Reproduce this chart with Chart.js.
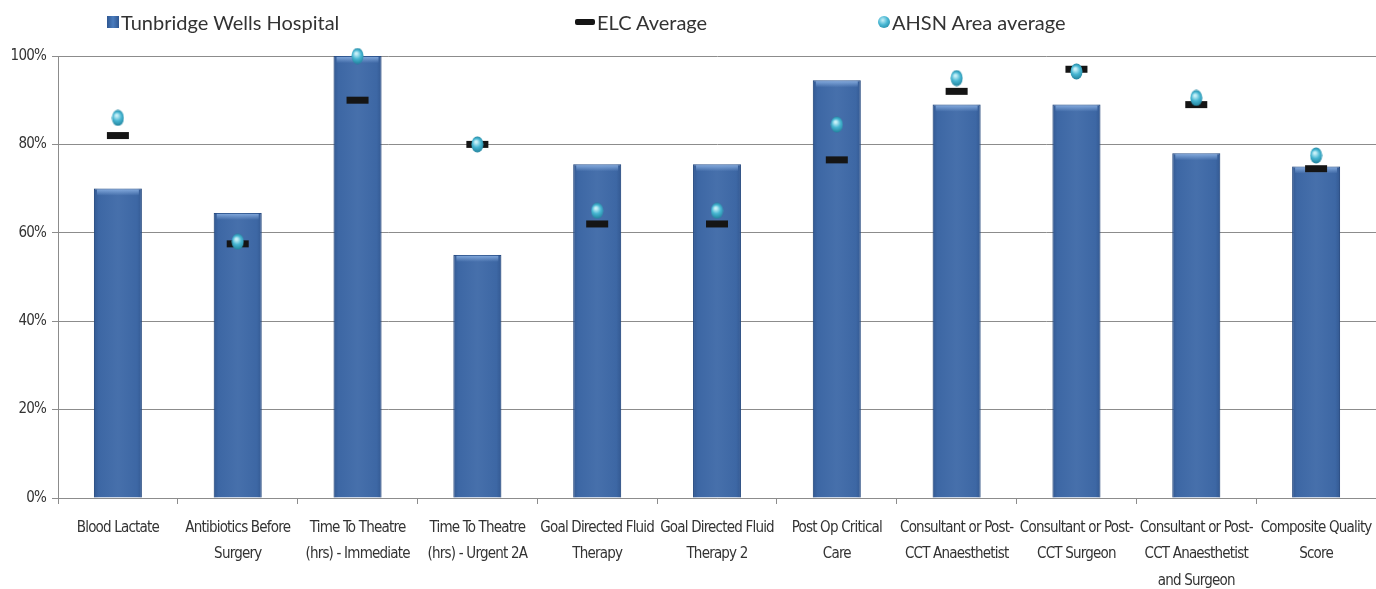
<!DOCTYPE html>
<html>
<head>
<meta charset="utf-8">
<script src="https://cdn.jsdelivr.net/npm/chart.js@4.4.1/dist/chart.umd.min.js"></script>
<style>
  html, body { margin: 0; background: #fff; overflow: hidden; }
  #wrap { position: relative; width: 1376px; height: 589px; }
  #chart { display: block; }
  #legend { position: absolute; top: 0; left: 0; width: 1376px; height: 45px;
            font-family: Lato, "Open Sans", sans-serif; font-size: 20px; color: #333; }
  .item { position: absolute; top: 8px; white-space: nowrap; line-height: 28px; }
  .mark { position: absolute; }
</style>
</head>
<body>
<div id="wrap">
  <canvas id="chart" width="1376" height="589"></canvas>
  <div id="legend"></div>
</div>
<script>
const categories = [
  ["Blood Lactate"],
  ["Antibiotics Before", "Surgery"],
  ["Time To Theatre", "(hrs) - Immediate"],
  ["Time To Theatre", "(hrs) - Urgent 2A"],
  ["Goal Directed Fluid", "Therapy"],
  ["Goal Directed Fluid", "Therapy 2"],
  ["Post Op Critical", "Care"],
  ["Consultant or Post-", "CCT Anaesthetist"],
  ["Consultant or Post-", "CCT Surgeon"],
  ["Consultant or Post-", "CCT Anaesthetist", "and Surgeon"],
  ["Composite Quality", "Score"]
];
const hospital = [70, 64.5, 100, 55, 75.5, 75.5, 94.5, 89, 89, 78, 75];
const elcAverage = [82, 57.5, 90, 80, 62, 62, 76.5, 92, 97, 89, 74.5];
const ahsnAverage = [86, 58, 100, 80, 65, 65, 84.5, 95, 96.5, 90.5, 77.5];
const yTicks = [0, 20, 40, 60, 80, 100];
const seriesNames = ["Tunbridge Wells Hospital", "ELC Average", "AHSN Area average"];

const labelFont = "'Liberation Sans Narrow', 'DejaVu Sans Condensed', sans-serif";

// small glossy drop used for the AHSN points
function makeDrop(w, h) {
  const c = document.createElement("canvas");
  c.width = w; c.height = h;
  const g = c.getContext("2d");
  const grad = g.createRadialGradient(w * 0.4, h * 0.35, 1, w / 2, h / 2, h / 2);
  grad.addColorStop(0, "#c6f0f8");
  grad.addColorStop(0.45, "#47b6d2");
  grad.addColorStop(1, "#1d7c96");
  g.fillStyle = grad;
  g.beginPath();
  g.ellipse(w / 2, h / 2, w / 2 - 0.5, h / 2 - 0.5, 0, 0, Math.PI * 2);
  g.fill();
  return c;
}
const drop = makeDrop(13, 17);

// shading over each bar: slightly darker edges and a light top cap
const barShade = {
  id: "barShade",
  afterDatasetDraw(chart, args) {
    if (args.index !== 0) return;
    const ctx = chart.ctx;
    args.meta.data.forEach(bar => {
      const l = bar.x - bar.width / 2, r = bar.x + bar.width / 2;
      const top = bar.y, base = bar.base;
      ctx.save();
      const h = ctx.createLinearGradient(l, 0, r, 0);
      h.addColorStop(0, "rgba(10,30,70,0.22)");
      h.addColorStop(0.1, "rgba(10,30,70,0.04)");
      h.addColorStop(0.5, "rgba(255,255,255,0.04)");
      h.addColorStop(0.9, "rgba(10,30,70,0.04)");
      h.addColorStop(1, "rgba(10,30,70,0.22)");
      ctx.fillStyle = h;
      ctx.fillRect(l, top, r - l, base - top);
      const v = ctx.createLinearGradient(0, top, 0, top + 7);
      v.addColorStop(0, "rgba(140,178,228,0.95)");
      v.addColorStop(1, "rgba(140,178,228,0)");
      ctx.fillStyle = v;
      ctx.fillRect(l + 3, top + 1, r - l - 6, 6);
      ctx.restore();
    });
  }
};

// tighter letter spacing for the narrow axis text
const tightText = {
  id: "tightText",
  beforeDraw(chart) { chart.ctx.letterSpacing = "-0.8px"; },
  beforeDatasetsDraw(chart) { chart.ctx.letterSpacing = "0px"; }
};

const chart = new Chart(document.getElementById("chart"), {
  type: "bar",
  data: {
    labels: categories,
    datasets: [{
      type: "bar",
      label: seriesNames[0],
      data: hospital,
      backgroundColor: "#3f6aa8",
      borderColor: "#2f5791",
      borderWidth: 1,
      categoryPercentage: 1,
      barPercentage: 0.4,
      order: 3
    }, {
      type: "line",
      label: seriesNames[1],
      data: elcAverage,
      showLine: false,
      pointStyle: "line",
      pointRadius: 11,
      pointBorderWidth: 7,
      pointBorderColor: "#151515",
      clip: false,
      order: 2
    }, {
      type: "line",
      label: seriesNames[2],
      data: ahsnAverage,
      showLine: false,
      pointStyle: drop,
      clip: false,
      order: 1
    }]
  },
  options: {
    responsive: false,
    animation: false,
    layout: { autoPadding: false, padding: { top: 56, right: 0, bottom: 0, left: 0 } },
    plugins: { legend: { display: false }, tooltip: { enabled: false } },
    scales: {
      x: {
        afterFit(s) { s.height = 91; s.paddingLeft = 0; s.paddingRight = 0; },
        grid: { drawOnChartArea: false, color: "#8c8c8c", tickLength: 6 },
        border: { color: "#8c8c8c" },
        ticks: {
          maxRotation: 0, autoSkip: false, padding: 11, color: "#333",
          font: { family: labelFont, size: 15, lineHeight: 1.75 }
        }
      },
      y: {
        min: 0, max: 100,
        afterFit(s) { s.width = 58; },
        afterBuildTicks(s) { s.ticks = yTicks.map(v => ({ value: v })); },
        grid: { color: "#8c8c8c", tickLength: 6 },
        border: { color: "#8c8c8c" },
        ticks: {
          padding: 6, color: "#333",
          font: { family: labelFont, size: 15 },
          callback: v => v + "%"
        }
      }
    }
  },
  plugins: [barShade, tightText]
});

// legend across the top
const legend = document.getElementById("legend");
const marks = [
  { x: 107, html: '<div class="mark" style="left:0;top:8px;width:12px;height:12px;background:linear-gradient(90deg,#2f5791,#4a7cbd,#2f5791);"></div>' },
  { x: 575, html: '<div class="mark" style="left:0;top:11px;width:20px;height:6px;background:#151515;border-radius:2px;"></div>' },
  { x: 878, html: '<div class="mark" style="left:0;top:8px;width:12px;height:12px;border-radius:50%;background:radial-gradient(circle at 40% 35%,#c6f0f8,#47b6d2 45%,#1d7c96);"></div>' }
];
seriesNames.forEach((name, i) => {
  const item = document.createElement("div");
  item.className = "item";
  item.style.left = marks[i].x + "px";
  item.innerHTML = marks[i].html + '<span style="margin-left:' + (i === 1 ? 22 : 14) + 'px">' + name + '</span>';
  legend.appendChild(item);
});
</script>
</body>
</html>
